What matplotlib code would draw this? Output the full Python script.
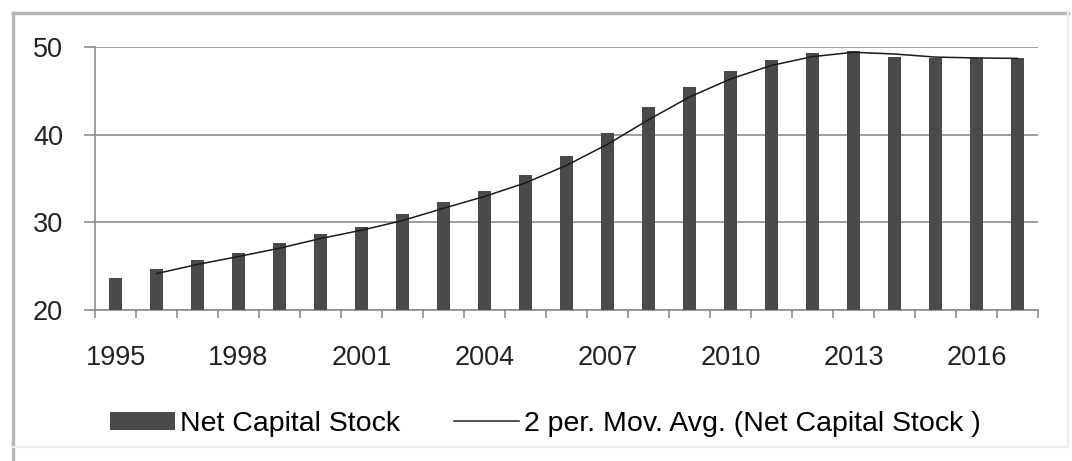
import matplotlib.pyplot as plt
import pandas as pd
from matplotlib.lines import Line2D
from matplotlib.patches import Patch

years = list(range(1995, 2018))
net_capital_stock = [23.6, 24.7, 25.7, 26.5, 27.6, 28.7, 29.5, 30.9, 32.3, 33.6,
                     35.4, 37.6, 40.2, 43.2, 45.4, 47.3, 48.5, 49.3, 49.5, 48.9,
                     48.8, 48.7, 48.7]
y_ticks = [20, 30, 40, 50]
x_tick_years = [1995, 1998, 2001, 2004, 2007, 2010, 2013, 2016]

BAR_COLOR = '#4a4a4a'
GRID_COLOR = '#8c8c8c'

plt.rcParams['font.family'] = ['Liberation Sans', 'DejaVu Sans']


def draw_chart():
    fig = plt.figure(figsize=(10.72, 4.61), dpi=100)
    ax = fig.add_axes([95 / 1072, 1 - 310 / 461, 943 / 1072, 263 / 461])

    positions = list(range(len(years)))
    ax.bar(positions, net_capital_stock, width=0.32, color=BAR_COLOR, zorder=3)

    # 2 period moving average drawn over the bars
    moving_avg = pd.Series(net_capital_stock).rolling(2).mean()
    ax.plot(positions, moving_avg, color='#1a1a1a', linewidth=1.1, zorder=4)

    format_axes(ax, positions)
    add_legend(fig)
    add_border(fig)
    fig.savefig('out.png', dpi=100, facecolor='white')


def format_axes(ax, positions):
    ax.set_xlim(-0.5, len(years) - 0.5)
    ax.set_ylim(20, 50)
    ax.set_yticks(y_ticks)
    ax.set_yticklabels([str(v) for v in y_ticks], fontsize=19.5, color='#222222')
    ax.yaxis.grid(True, color=GRID_COLOR, linewidth=1.2, zorder=0)
    ax.tick_params(axis='y', length=8, width=1.2, color=GRID_COLOR, pad=15)

    label_pos = [years.index(y) for y in x_tick_years]
    ax.set_xticks(label_pos)
    ax.set_xticklabels([str(y) for y in x_tick_years], fontsize=19.5, color='#222222')
    ax.tick_params(axis='x', length=0, pad=25)
    # year boundary ticks under the axis
    ax.set_xticks([p - 0.5 for p in positions] + [len(years) - 0.5], minor=True)
    ax.tick_params(axis='x', which='minor', length=6, width=1.2, color=GRID_COLOR)

    for side in ['top', 'right']:
        ax.spines[side].set_visible(False)
    for side in ['left', 'bottom']:
        ax.spines[side].set_color(GRID_COLOR)
        ax.spines[side].set_linewidth(1.2)


def add_legend(fig):
    handles = [Patch(facecolor=BAR_COLOR, edgecolor='none'),
               Line2D([], [], color='#333333', linewidth=1.2)]
    labels = ['Net Capital Stock', '2 per. Mov. Avg. (Net Capital Stock )']
    fig.legend(handles, labels, loc='center left', bbox_to_anchor=(110 / 1072, 1 - 424 / 461),
               ncol=2, frameon=False, fontsize=20.5, handlelength=2.3, handleheight=0.62,
               handletextpad=0.15, columnspacing=1.9, borderaxespad=0, borderpad=0)


def add_border(fig):
    w, h = 1072, 461
    left, right, top, bottom = 12.5 / w, 1067.5 / w, 1 - 13 / h, 1 - 447 / h
    fig.add_artist(Line2D([left, right], [top, top], color='#b8b8b8', linewidth=2.5))
    fig.add_artist(Line2D([left, left], [top, 0], color='#b8b8b8', linewidth=2.5))
    fig.add_artist(Line2D([right, right], [top, bottom], color='#ececec', linewidth=1.5))
    fig.add_artist(Line2D([left, right], [bottom, bottom], color='#ececec', linewidth=1.5))


if __name__ == '__main__':
    draw_chart()
